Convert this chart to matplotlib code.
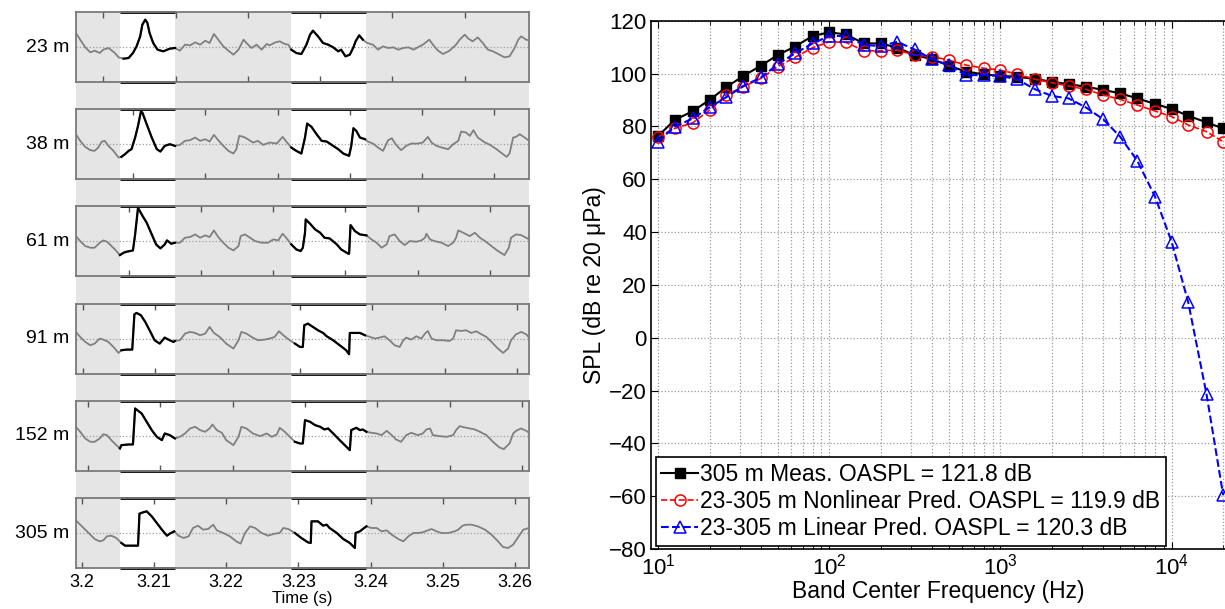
import numpy as np
import matplotlib
matplotlib.use('Agg')
import matplotlib.pyplot as plt

plt.rcParams['font.family'] = ['Liberation Sans', 'DejaVu Sans']
plt.rcParams['mathtext.fontset'] = 'custom'
plt.rcParams['mathtext.rm'] = 'Liberation Sans'
plt.rcParams['mathtext.it'] = 'Liberation Sans:italic'

# ---- left column: pressure waveforms (time in ms after 3.2 s, amplitude normalised) ----
labels = ['23 m', '38 m', '61 m', '91 m', '152 m', '305 m']

t23 = [-0.8, -0.2, 0.5, 1.2, 1.8, 2.5, 3.0, 3.7, 4.2, 4.6, 5.1, 5.8, 6.5, 7.1, 7.6, 8.1, 8.4, 8.8, 9.1, 9.4,
       9.9, 10.5, 11.3, 12.2, 12.9, 13.6, 14.3, 15.0, 15.7, 16.4, 17.1, 17.7, 18.3, 18.9, 19.6, 20.3, 21.0,
       21.7, 22.4, 22.8, 23.5, 24.2, 24.9, 25.6, 26.0, 26.7, 27.4, 28.1, 28.6, 29.0, 29.7, 30.4, 31.1, 31.6,
       32.0, 32.7, 33.4, 34.1, 34.8, 35.5, 35.9, 36.5, 37.1, 37.6, 37.9, 38.4, 38.9, 39.5, 40.3, 41.0, 41.7,
       42.4, 43.1, 43.8, 44.5, 45.2, 45.9, 46.5, 47.2, 48.1, 48.6, 49.3, 50.0, 50.9, 51.8, 52.3, 53.0, 53.5,
       54.1, 54.8, 55.5, 56.2, 56.9, 57.8, 58.5, 59.2, 59.9, 60.4, 60.8, 61.5, 61.9]
p23 = [0.42, 0.22, -0.01, -0.16, -0.11, -0.18, -0.08, -0.03, -0.11, -0.18, -0.31, -0.35, -0.33, -0.18, 0.02,
       0.32, 0.67, 0.82, 0.72, 0.42, 0.12, -0.08, -0.13, -0.05, -0.03, -0.11, 0.07, 0.05, 0.14, 0.07, 0.19,
       0.12, 0.39, 0.22, 0.02, -0.11, -0.23, -0.08, 0.22, 0.12, -0.03, 0.07, -0.08, 0.09, 0.05, 0.13, 0.17,
       0.09, 0.07, -0.08, -0.18, -0.21, 0.07, 0.37, 0.49, 0.32, 0.12, 0.07, -0.01, -0.13, -0.08, -0.28, -0.23,
       -0.01, 0.17, 0.35, 0.22, 0.12, 0.07, -0.08, 0.02, -0.03, -0.01, -0.08, -0.03, -0.01, -0.08, -0.01, 0.07,
       0.22, 0.07, -0.11, -0.21, -0.11, 0.07, 0.22, 0.37, 0.25, 0.17, 0.29, 0.12, -0.08, -0.13, -0.23, -0.31,
       -0.28, -0.03, 0.22, 0.32, 0.22, 0.20]

t38 = [-0.8, -0.2, 0.5, 1.2, 1.8, 2.3, 2.8, 3.2, 3.7, 4.4, 5.1, 5.5, 6.0, 6.5, 6.9, 7.4, 7.8, 8.2, 8.4, 9.0,
       9.7, 10.4, 10.9, 11.5, 12.2, 12.9, 13.6, 14.3, 15.0, 15.7, 16.4, 17.1, 17.7, 18.3, 18.9, 19.6, 20.3,
       21.0, 21.4, 21.8, 22.4, 23.0, 23.7, 24.4, 25.1, 26.0, 27.0, 27.8, 28.3, 29.0, 29.7, 30.4, 30.9, 31.2,
       31.8, 32.5, 33.2, 33.9, 34.8, 35.5, 36.2, 37.0, 37.3, 37.6, 38.0, 38.5, 39.2, 39.6, 40.3, 41.0, 41.7,
       42.4, 42.9, 43.5, 44.2, 44.9, 45.6, 46.5, 47.2, 47.9, 48.4, 49.1, 49.8, 50.7, 51.4, 52.1, 52.5, 53.2,
       53.7, 54.2, 54.8, 55.8, 56.5, 57.4, 58.3, 58.8, 59.2, 59.7, 60.1, 60.6, 61.3, 61.9]
p38 = [0.30, 0.10, -0.08, -0.18, -0.20, -0.10, 0.08, 0.10, -0.05, -0.20, -0.40, -0.38, -0.30, -0.20, -0.15,
       0.20, 0.55, 0.98, 0.95, 0.60, 0.20, -0.15, -0.22, -0.05, 0.00, -0.05, -0.02, 0.10, 0.12, 0.20, 0.10,
       0.15, 0.08, 0.28, 0.12, -0.05, -0.20, -0.28, -0.15, 0.25, 0.22, 0.15, 0.05, 0.10, -0.02, 0.05, 0.02,
       0.22, 0.08, -0.10, -0.20, -0.28, 0.20, 0.62, 0.52, 0.30, 0.10, 0.08, -0.05, -0.15, -0.28, -0.35, -0.05,
       0.48, 0.40, 0.20, 0.15, 0.08, 0.02, -0.10, -0.20, 0.12, 0.18, -0.02, -0.18, -0.05, 0.02, 0.02, 0.05,
       0.22, 0.05, -0.05, -0.10, -0.15, 0.00, 0.10, 0.38, 0.35, 0.25, 0.42, 0.20, 0.05, -0.02, -0.15, -0.30,
       -0.38, -0.28, 0.20, 0.22, 0.30, 0.20, 0.10]

t61 = [-0.8, -0.2, 0.5, 1.2, 1.8, 2.5, 3.0, 3.5, 3.9, 4.6, 5.3, 5.8, 6.2, 6.7, 7.1, 7.4, 7.6, 7.8, 8.3, 9.0,
       9.7, 10.3, 10.9, 11.5, 11.8, 12.4, 12.9, 13.6, 14.3, 15.0, 15.7, 16.4, 17.1, 17.7, 18.3, 18.9, 19.6,
       20.3, 21.0, 21.7, 22.0, 22.6, 23.3, 24.0, 24.9, 25.8, 26.5, 27.2, 27.8, 28.3, 29.0, 29.7, 30.3, 30.6,
       30.9, 31.0, 31.6, 32.3, 33.0, 33.6, 34.3, 35.3, 35.9, 36.9, 37.0, 37.2, 37.8, 38.5, 39.4, 40.1, 40.8,
       41.5, 42.2, 42.6, 43.3, 44.0, 44.7, 45.4, 46.3, 47.0, 47.5, 47.7, 48.2, 48.8, 49.8, 50.7, 51.4, 51.8,
       52.1, 52.8, 53.7, 54.4, 55.1, 55.8, 56.7, 57.6, 58.5, 59.1, 59.4, 60.1, 60.8, 61.5, 61.9]
p61 = [0.16, 0.01, -0.14, -0.19, -0.19, -0.04, 0.03, -0.01, -0.09, -0.24, -0.41, -0.34, -0.31, -0.29, -0.27,
       0.21, 0.61, 1.01, 0.81, 0.56, 0.21, -0.09, -0.21, -0.09, 0.03, -0.07, -0.04, -0.04, 0.11, 0.13, 0.21,
       0.11, 0.18, 0.13, 0.33, 0.13, -0.04, -0.19, -0.27, -0.14, 0.16, 0.21, 0.11, 0.01, -0.04, -0.04, 0.06,
       0.03, 0.23, 0.11, -0.09, -0.24, -0.29, -0.19, 0.26, 0.66, 0.53, 0.36, 0.26, 0.11, 0.09, -0.09, -0.24,
       -0.37, -0.37, 0.49, 0.31, 0.21, 0.18, 0.06, -0.04, -0.19, -0.09, 0.16, 0.21, 0.01, -0.11, 0.01, -0.01,
       0.03, 0.11, 0.23, 0.06, 0.01, -0.04, -0.14, -0.04, 0.11, 0.33, 0.26, 0.16, 0.26, 0.11, 0.01, -0.14,
       -0.29, -0.41, -0.19, 0.11, 0.21, 0.19, 0.11, 0.06]

t91 = [-0.8, -0.2, 0.5, 1.2, 1.8, 2.5, 3.0, 3.7, 4.4, 5.1, 5.5, 6.2, 6.9, 7.0, 7.3, 7.6, 8.2, 8.8, 9.4, 10.1,
       10.8, 11.5, 12.0, 12.7, 12.9, 13.6, 14.3, 15.0, 15.7, 16.4, 17.1, 17.7, 18.3, 19.1, 20.0, 21.0, 21.7,
       22.1, 22.8, 23.5, 24.4, 25.3, 26.0, 26.7, 27.3, 27.9, 28.8, 29.5, 30.2, 30.6, 30.8, 31.3, 32.0, 32.7,
       33.4, 33.9, 34.8, 35.7, 36.6, 37.0, 37.1, 37.6, 38.5, 39.2, 39.9, 40.6, 41.2, 41.9, 42.6, 43.3, 44.0,
       44.5, 44.9, 45.6, 46.3, 47.0, 47.5, 47.9, 48.4, 49.1, 50.0, 50.9, 51.4, 51.8, 52.5, 53.2, 53.9, 54.6,
       55.3, 56.0, 56.7, 57.6, 58.3, 59.0, 59.4, 60.1, 60.8, 61.5, 61.9]
p91 = [0.20, 0.05, -0.10, -0.20, -0.15, 0.00, -0.03, -0.10, -0.25, -0.43, -0.35, -0.33, -0.33, -0.33, 0.73,
       0.77, 0.70, 0.50, 0.25, -0.05, -0.15, 0.03, -0.03, -0.10, -0.07, -0.05, 0.15, 0.20, 0.17, 0.10, 0.15,
       0.35, 0.17, 0.05, -0.15, -0.30, -0.05, 0.20, 0.15, 0.05, -0.05, -0.03, 0.00, 0.05, 0.22, 0.10, -0.05,
       -0.15, -0.25, -0.25, 0.40, 0.45, 0.35, 0.25, 0.17, 0.07, -0.05, -0.20, -0.35, -0.47, 0.17, 0.17, 0.17,
       0.10, 0.05, 0.00, 0.03, 0.07, -0.05, -0.20, -0.25, -0.05, 0.03, -0.03, 0.07, 0.00, 0.15, 0.23, 0.00,
       -0.05, -0.05, -0.07, 0.00, 0.25, 0.23, 0.25, 0.17, 0.22, 0.13, 0.05, -0.10, -0.30, -0.43, -0.30, -0.05,
       0.13, 0.20, 0.13, 0.03]

t152 = [-0.8, -0.2, 0.5, 1.2, 1.8, 2.5, 3.0, 3.5, 4.1, 4.8, 5.3, 5.5, 6.5, 7.1, 7.4, 8.3, 9.0, 9.7, 10.4,
        11.1, 11.5, 12.2, 12.9, 13.6, 14.3, 15.0, 15.7, 16.4, 17.1, 17.7, 18.1, 18.7, 19.4, 20.0, 21.0, 21.7,
        22.1, 22.8, 23.7, 24.7, 25.6, 26.3, 27.0, 27.4, 28.1, 28.8, 29.5, 30.2, 30.6, 30.9, 31.6, 32.3, 33.0,
        33.6, 34.1, 34.8, 35.7, 36.4, 37.1, 37.3, 38.0, 38.5, 38.9, 39.4, 40.1, 40.8, 41.5, 42.2, 42.9, 43.5,
        44.2, 44.9, 45.6, 46.5, 47.2, 47.7, 48.2, 48.6, 49.5, 50.5, 51.4, 51.8, 52.3, 53.0, 53.7, 54.4, 55.1,
        56.0, 56.9, 57.8, 58.4, 59.2, 59.7, 60.1, 60.8, 61.5, 61.9]
p152 = [0.27, 0.12, -0.08, -0.18, -0.18, -0.08, 0.05, 0.02, -0.13, -0.28, -0.38, -0.28, -0.26, -0.26, 0.82,
        0.67, 0.42, 0.17, -0.03, -0.13, 0.07, 0.02, -0.08, -0.03, 0.07, 0.22, 0.27, 0.17, 0.12, 0.22, 0.34,
        0.17, 0.09, -0.13, -0.28, -0.03, 0.27, 0.22, 0.07, -0.01, 0.07, -0.03, 0.04, 0.24, 0.12, -0.03, -0.18,
        -0.23, -0.23, 0.47, 0.42, 0.32, 0.27, 0.19, 0.22, 0.07, -0.13, -0.28, -0.43, 0.17, 0.24, 0.17, 0.19,
        0.12, 0.09, 0.07, 0.02, 0.15, 0.02, -0.11, -0.18, 0.02, 0.09, 0.02, 0.07, 0.19, 0.22, 0.02, -0.01,
        -0.03, 0.02, 0.17, 0.29, 0.25, 0.22, 0.19, 0.12, 0.02, -0.18, -0.35, -0.40, -0.23, 0.07, 0.15, 0.22,
        0.15, 0.09]

t305 = [-0.8, -0.2, 0.5, 1.2, 1.8, 2.5, 3.0, 3.5, 4.1, 4.8, 5.5, 6.0, 6.9, 7.8, 8.0, 8.5, 9.0, 9.7, 10.4,
        11.1, 11.8, 12.2, 12.8, 13.4, 14.1, 14.8, 15.4, 16.1, 16.8, 17.5, 18.2, 18.7, 19.6, 20.5, 21.4, 22.0,
        22.6, 23.3, 24.0, 24.9, 25.8, 26.7, 27.4, 27.9, 28.6, 29.5, 30.4, 31.3, 31.7, 31.8, 32.7, 33.4, 33.9,
        34.3, 35.3, 36.2, 37.1, 37.8, 37.9, 38.5, 38.9, 39.4, 40.1, 40.8, 41.5, 42.2, 42.9, 43.8, 44.5, 45.2,
        45.9, 46.5, 47.2, 47.9, 48.4, 49.1, 49.8, 50.7, 51.6, 52.1, 52.7, 53.2, 53.9, 54.8, 55.8, 56.7, 57.6,
        58.3, 59.0, 59.7, 60.4, 61.1, 61.9]
p305 = [0.38, 0.25, 0.10, -0.05, -0.18, -0.25, -0.22, -0.10, -0.08, -0.15, -0.30, -0.38, -0.38, -0.38, 0.58,
        0.62, 0.65, 0.50, 0.30, 0.10, -0.08, -0.02, 0.05, -0.08, -0.15, -0.10, 0.15, 0.22, 0.10, 0.12, 0.25,
        0.08, 0.00, -0.10, -0.25, -0.32, 0.00, 0.20, 0.15, 0.00, -0.08, -0.02, 0.00, 0.15, 0.12, 0.00, -0.15,
        -0.28, -0.30, 0.35, 0.35, 0.22, 0.25, 0.15, 0.00, -0.18, -0.30, -0.45, 0.00, 0.05, 0.12, 0.20, 0.15,
        0.15, 0.05, 0.08, -0.05, -0.18, -0.25, -0.10, 0.00, 0.00, 0.02, 0.08, 0.12, 0.05, 0.00, 0.00, 0.05,
        0.10, 0.22, 0.25, 0.25, 0.20, 0.10, -0.05, -0.25, -0.42, -0.45, -0.35, -0.12, 0.10, 0.15]

times_ms = [t23, t38, t61, t91, t152, t305]
pressures = [p23, p38, p61, p91, p152, p305]
windows_ms = [(5.3, 12.95), (29.0, 39.4)]          # highlighted (white) time windows
tick_shift_ms = [3.0, 7.1, 6.5, 0.2, 0.9, 0.0]     # per-panel time-axis offset of the 10 ms ticks
time_labels = ['3.2', '3.21', '3.22', '3.23', '3.24', '3.25', '3.26']

# ---- right: 1/3-octave band spectra ----
freqs = [10, 12.5, 16, 20, 25, 31.5, 40, 50, 63, 80, 100, 125, 160, 200, 250, 315, 400, 500, 630, 800,
         1000, 1250, 1600, 2000, 2500, 3150, 4000, 5000, 6300, 8000, 10000, 12500, 16000, 20000]
spl_meas = [76.3, 82.4, 85.8, 90.0, 94.8, 99.1, 103.0, 107.0, 110.2, 114.2, 115.6, 114.8, 111.4, 111.4,
            109.8, 107.0, 105.4, 103.0, 100.7, 99.7, 99.1, 98.8, 97.9, 96.9, 96.0, 95.0, 93.8, 92.5, 90.6,
            88.5, 86.6, 84.0, 81.5, 79.2]
spl_nonlin = [76.0, 79.2, 81.4, 86.2, 91.9, 95.0, 98.2, 102.6, 106.1, 109.8, 112.0, 111.8, 108.6, 108.6,
              108.9, 107.0, 106.4, 105.1, 103.2, 102.0, 101.3, 99.8, 97.8, 96.5, 95.3, 94.0, 91.9, 90.2, 88.1,
              85.8, 83.7, 80.5, 78.0, 74.2]
spl_lin = [74.2, 79.9, 83.0, 87.2, 91.0, 95.3, 98.5, 103.5, 107.6, 111.4, 114.2, 114.2, 110.8, 110.4, 112.0,
           109.1, 105.4, 103.2, 99.4, 99.4, 99.1, 97.8, 94.0, 91.5, 90.6, 87.2, 82.6, 76.1, 67.0, 53.4, 36.3,
           13.4, -21.5, -59.6]
oaspl = [121.8, 119.9, 120.3]

W, H = 1225, 609
fig = plt.figure(figsize=(W / 100, H / 100), dpi=100)

T0 = 3.2
xlim_left = (T0 - 0.00078, T0 + 0.06189)
px_l, px_r = 76, 529
panel_tops = [12, 109.2, 206.4, 303.6, 400.8, 498]
panel_h = 70

# grey background shared by all panels
bg = fig.add_axes([px_l / W, 1 - 568 / H, (px_r - px_l) / W, (568 - 12) / H], zorder=0)
bg.set_xlim(*xlim_left)
edges = [xlim_left[0]] + [T0 + v / 1000 for w in windows_ms for v in w] + [xlim_left[1]]
for a, b in zip(edges[0::2], edges[1::2]):
    bg.axvspan(a, b, color='#e5e5e5', lw=0)
bg.axis('off')

for i, (lab, tm, p) in enumerate(zip(labels, times_ms, pressures)):
    top = panel_tops[i]
    ax = fig.add_axes([px_l / W, 1 - (top + panel_h) / H, (px_r - px_l) / W, panel_h / H], zorder=2)
    ax.patch.set_alpha(0)
    t = T0 + np.array(tm) / 1000
    p = np.array(p)
    ax.axhline(0, color='#a0a0a0', ls=':', lw=0.9)
    ax.plot(t, p, color='#808080', lw=1.3)
    inside = np.zeros(len(t), bool)
    for a, b in windows_ms:
        inside |= (t >= T0 + a / 1000) & (t <= T0 + b / 1000)
    ax.plot(t, np.where(inside, p, np.nan), color='black', lw=1.6)
    ax.set_xlim(*xlim_left)
    ax.set_ylim(-1.05, 1.05)
    ticks = T0 + (tick_shift_ms[i] + 10 * np.arange(0, 7)) / 1000
    ticks = ticks[ticks < xlim_left[1]]
    ax.set_xticks(ticks)
    ax.set_yticks([])
    ax.tick_params(axis='x', direction='in', top=True, bottom=True, length=4, width=1,
                   color='#555555', labelsize=13, pad=4)
    for sp in ax.spines.values():
        sp.set_color('#7a7a7a')
        sp.set_linewidth(1.3)
    for a, b in windows_ms:
        for yy in (-1.05, 1.05):
            ax.plot([T0 + a / 1000, T0 + b / 1000], [yy, yy], color='black', lw=2.0, clip_on=False,
                    solid_capstyle='butt')
    ax.set_ylabel(lab, rotation=0, ha='right', va='center', fontsize=14, labelpad=5)
    if i == len(labels) - 1:
        ax.set_xticklabels(time_labels)
        ax.set_xlabel('Time (s)', fontsize=12, labelpad=0)
    else:
        ax.set_xticklabels([])

# spectrum panel
axr = fig.add_axes([651 / W, 1 - 549 / H, 1 - 651 / W, (549 - 20.7) / H])
axr.semilogx(freqs, spl_meas, '-s', color='black', mfc='black', ms=7.5, lw=1.5,
             label='305 m Meas. OASPL = %.1f dB' % oaspl[0])
axr.semilogx(freqs, spl_nonlin, '--o', color='red', mfc='none', ms=8, lw=1.2, mew=1.1,
             label='23-305 m Nonlinear Pred. OASPL = %.1f dB' % oaspl[1])
axr.semilogx(freqs, spl_lin, '--^', color='blue', mfc='none', ms=8, lw=1.5, mew=1.1,
             label='23-305 m Linear Pred. OASPL = %.1f dB' % oaspl[2])
axr.set_xlim(9.1, 20500)
axr.set_ylim(-80, 120)
axr.set_yticks(np.arange(-80, 121, 20))
axr.grid(True, which='major', color='#9a9a9a', ls=':', lw=0.9)
axr.xaxis.grid(True, which='minor', color='#9a9a9a', ls=':', lw=0.9)
axr.tick_params(which='both', direction='in', top=True, right=False, labelsize=16, pad=3)
axr.tick_params(which='major', length=5)
axr.tick_params(which='minor', length=3)
axr.spines['right'].set_visible(False)
for sp in ['left', 'top', 'bottom']:
    axr.spines[sp].set_linewidth(1.2)
axr.set_xlabel('Band Center Frequency (Hz)', fontsize=16.5, labelpad=1)
axr.set_ylabel('SPL (dB re 20 \u03bcPa)', fontsize=16.5, labelpad=2)
leg = axr.legend(loc='lower left', bbox_to_anchor=(0.008, 0.006), borderaxespad=0, fontsize=16.5,
                 handlelength=1.6, handletextpad=0.1, labelspacing=0.18, borderpad=0.25,
                 fancybox=False, framealpha=1, edgecolor='black')
leg.get_frame().set_linewidth(1.2)

fig.savefig('out.png', dpi=100)
